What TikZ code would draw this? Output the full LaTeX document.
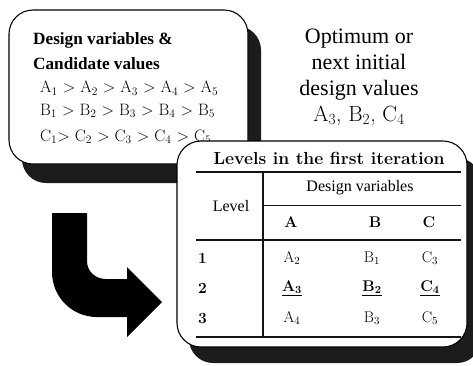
\documentclass[tikz,border=0pt]{standalone}
\usepackage{fontspec}
\newfontfamily\timesfont{Liberation Serif}
\definecolor{shadowgray}{RGB}{28, 28, 28}
\definecolor{rulegray}{RGB}{20, 20, 20}
\newcommand\lv[2]{#1\textsubscript{#2}}
\usetikzlibrary{positioning, calc}

\begin{document}
\begin{tikzpicture}[x=1pt, y=-1pt,
  box/.style={draw=black, line width=1.1pt, fill=white, rounded corners=24pt},
  boxshade/.style={fill=shadowgray, rounded corners=24pt},
  cand/.style={anchor=west, inner sep=0pt, font=\fontsize{16.5}{18}\selectfont},
  head/.style={anchor=west, inner sep=0pt, font=\timesfont\bfseries\fontsize{17.2}{18}\selectfont},
  cell/.style={inner sep=0pt, font=\fontsize{15.5}{18}\selectfont},
  bcell/.style={cell, font=\bfseries\fontsize{15.5}{18}\selectfont},
  hcell/.style={inner sep=0pt, font=\timesfont\fontsize{16}{18}\selectfont},
  trule/.style={rulegray, line width=1.6pt},
  thinrule/.style={rulegray, line width=0.8pt}]
  \useasboundingbox (0,0) rectangle (473,365);
  % Candidate values box
  \fill[boxshade] (22,26) rectangle (261,183);
  \draw[box] (9,10) rectangle (248,164);
  \node[head] (dv) at (33,40) {Design variables \&};
  \node[head] (cv) at (33,64) {Candidate values};
  \foreach \v/\y in {A/88, B/111} {
    \node[cand] (\v line) at (40,\y) {\lv{\v}{1} > \lv{\v}{2} > \lv{\v}{3} > \lv{\v}{4} > \lv{\v}{5}};
  }
  \node[cand] (Cline) at (40,137) {\lv{C}{1}> \lv{C}{2} > \lv{C}{3} > \lv{C}{4} > \lv{C}{5}};
  % Optimum values
  \node[align=center, inner sep=0pt, font=\timesfont\fontsize{22}{26}\selectfont] (opt) at (359,77)
    {Optimum or\\next initial\\design values\\{\normalfont\lv{A}{3}, \lv{B}{2}, \lv{C}{4}}};
  % Bent arrow
  \fill[black] (52,213) -- (52,272) .. controls (52,297) and (72,317) .. (97,317)
    -- (127,317) -- (127,337) -- (162,302) -- (127,267) -- (127,279) -- (106,279)
    .. controls (95,279) and (87,271) .. (87,261) -- (87,213) -- cycle;
  % Levels table box
  \fill[boxshade] (189,158) rectangle (481,363);
  \draw[box] (177,141) rectangle (467,347);
  \node[inner sep=0pt, font=\bfseries\fontsize{17.5}{18}\selectfont] (title) at (329,158)
    {Levels in the first iteration};
  \draw[trule] (196,172) -- (461,172);
  \draw[trule] (263,172) -- (263,337);
  \draw[thinrule] (263,205) -- (461,205);
  \draw[trule] (196,240) -- (461,240);
  \draw[trule] (196,337) -- (461,337);
  \node[hcell] (lvl) at (231,206) {Level};
  \node[hcell] (dvar) at (360,188) {Design variables};
  \foreach \v/\x in {A/291, B/375, C/429} {
    \node[bcell] (h\v) at (\x,222) {\v};
  }
  % Rows
  \foreach \r/\y/\a/\b/\c in {1/258/2/1/3, 3/318/4/3/5} {
    \node[bcell, anchor=west] (r\r) at (198,\y) {\r};
    \node[cell] (a\r) at (292,\y) {\lv{A}{\a}};
    \node[cell] (b\r) at (372,\y) {\lv{B}{\b}};
    \node[cell] (c\r) at (430,\y) {\lv{C}{\c}};
  }
  \node[bcell, anchor=west] (r2) at (198,288) {2};
  \node[bcell] (a2) at (292,288) {\underline{\lv{A}{3}}};
  \node[bcell] (b2) at (372,288) {\underline{\lv{B}{2}}};
  \node[bcell] (c2) at (430,288) {\underline{\lv{C}{4}}};
\end{tikzpicture}
\end{document}
